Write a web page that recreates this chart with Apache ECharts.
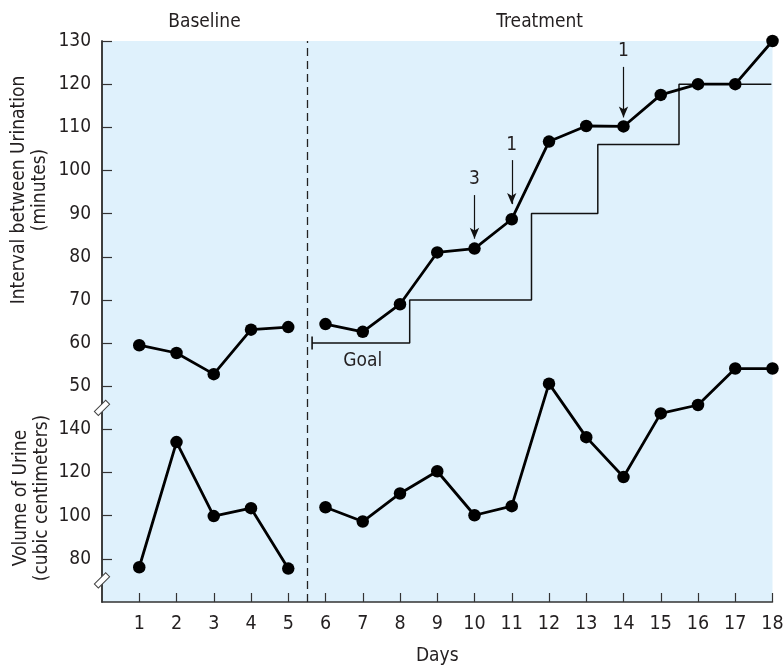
<!DOCTYPE html>
<html><head><meta charset="utf-8">
<script src="https://cdn.jsdelivr.net/npm/echarts@6/dist/echarts.min.js"></script>
<style>html,body{margin:0;padding:0;background:#fff}#c{width:784px;height:666px}</style>
</head><body><div id="c"></div>
<script>
// ---- data ----
const days = [1,2,3,4,5,6,7,8,9,10,11,12,13,14,15,16,17,18];
const baselineCount = 5;
const intervalMin = [59.5,57.7,52.8,63.1,63.7,64.4,62.6,69.0,81.0,81.9,88.7,106.7,110.3,110.2,117.5,120,120,130];
const volumeCc = [76.1,134.1,99.8,103.5,75.5,103.9,97.3,110.3,120.6,100.2,104.4,161.2,136.4,117.9,147.4,151.3,168.2,168.2];
const goalDays = [5.64, 8.26, 11.53, 13.31, 15.49, 17.97];
const goalValues = [60, 70, 90, 106, 120, 120];
const intervalTicks = [50,60,70,80,90,100,110,120,130];
const volumeTicks = [80,100,120,140];
const dayTicks = [1,2,3,4,5,6,7,8,9,10,11,12,13,14,15,16,17,18];
const arrowDays = [10, 11, 14];
const arrowLabels = ['3','1','1'];
const arrowFrom = [94.3, 102.4, 124.0];
const arrowTo = [84.2, 92.2, 112.3];
const phaseNames = ['Baseline','Treatment'];
const phaseBounds = [0, 5.5, 18];
const axisBreaks = [150, 70];

// ---- styles ----
const FONT = "'Liberation Sans Narrow','DejaVu Sans Condensed','Roboto Condensed',sans-serif";
const TXT = '#231f20';
const AX = '#333333';
const FS = 19;

const pts = (xs, ys) => xs.map((x, i) => [x, ys[i]]);
const intervalPts = pts(days, intervalMin);
const volumePts = pts(days, volumeCc);

const lineSeries = (name, data, yIdx) => ({
  name, type: 'line', data, xAxisIndex: 0, yAxisIndex: yIdx,
  symbol: 'circle', symbolSize: 12.5, showSymbol: true,
  lineStyle: { color: '#000', width: 2.8 }, itemStyle: { color: '#000' },
  z: 5, animation: false
});

const goalData = goalDays.map((d, i) => i === 0
  ? { value: [d, goalValues[i]], symbol: 'rect', symbolSize: [1.6, 13] }
  : { value: [d, goalValues[i]], symbol: 'none' });

const chart = echarts.init(document.getElementById('c'), null, { renderer: 'canvas' });
const option = {
  animation: false,
  textStyle: { fontFamily: FONT, color: TXT },
  grid: { left: 102, top: 41, width: 670.5, height: 561, show: true, backgroundColor: '#dff1fc', borderWidth: 0,
          containLabel: false, outerBoundsMode: 'none' },
  xAxis: [{
    type: 'value', min: 0, max: 18, interval: 1,
    name: 'Days', nameLocation: 'middle', nameGap: 45,
    nameTextStyle: { fontFamily: FONT, fontSize: FS, color: TXT },
    axisLine: { lineStyle: { color: AX, width: 1.5 } },
    axisTick: { inside: true, length: 9, lineStyle: { color: AX, width: 1.2 }, customValues: dayTicks },
    axisLabel: { fontFamily: FONT, fontSize: FS + 0.5, color: TXT, margin: 12, customValues: dayTicks },
    splitLine: { show: false }
  }],
  yAxis: [{
    type: 'value', min: 0, max: 130, position: 'left',
    axisLine: { show: true, lineStyle: { color: AX, width: 1.5 } },
    axisTick: { show: true, inside: true, length: 10, lineStyle: { color: AX, width: 1.2 }, customValues: intervalTicks },
    axisLabel: { fontFamily: FONT, fontSize: FS, color: TXT, margin: 11, customValues: intervalTicks },
    splitLine: { show: false }
  }, {
    type: 'value', min: 60, max: 320, position: 'left', offset: 0,
    axisLine: { show: true, lineStyle: { color: AX, width: 1.5 } },
    axisTick: { show: true, inside: true, length: 10, lineStyle: { color: AX, width: 1.2 }, customValues: volumeTicks },
    axisLabel: { fontFamily: FONT, fontSize: FS, color: TXT, margin: 11, customValues: volumeTicks },
    splitLine: { show: false }
  }],
  series: [
    {
      name: 'Goal', type: 'line', step: 'end', data: goalData, yAxisIndex: 0,
      lineStyle: { color: '#111', width: 1.5 }, itemStyle: { color: '#111' }, z: 3,
      markPoint: {
        symbol: 'circle', symbolSize: 0,
        label: { show: true, position: 'bottom', distance: 8, formatter: 'Goal', fontFamily: FONT, fontSize: FS, color: TXT },
        data: [{ coord: [7, goalValues[0]] }]
      },
      markArea: {
        silent: true, itemStyle: { color: 'rgba(0,0,0,0)' },
        label: { show: true, position: 'top', distance: 9, fontFamily: FONT, fontSize: FS, color: TXT },
        data: phaseNames.map((n, i) => [{ name: n, xAxis: phaseBounds[i] }, { xAxis: phaseBounds[i + 1] }])
      },
      markLine: {
        silent: true, symbol: 'none',
        lineStyle: { color: '#222', type: [8, 5], width: 1.3 },
        label: { show: false },
        data: [{ xAxis: phaseBounds[1] }]
      }
    },
    lineSeries('Interval baseline', intervalPts.slice(0, baselineCount), 0),
    Object.assign(lineSeries('Interval treatment', intervalPts.slice(baselineCount), 0), {
      markLine: {
        silent: true,
        lineStyle: { color: '#111', type: 'solid', width: 1.2 },
        label: { show: true, position: 'start', distance: 6, fontFamily: FONT, fontSize: FS, color: TXT },
        data: arrowDays.map((d, i) => [
          { coord: [d, arrowFrom[i]], symbol: 'none', label: { formatter: arrowLabels[i] } },
          { coord: [d, arrowTo[i]], symbol: 'arrow', symbolSize: [7, 11] }
        ])
      }
    }),
    lineSeries('Volume baseline', volumePts.slice(0, baselineCount), 1),
    lineSeries('Volume treatment', volumePts.slice(baselineCount), 1)
  ]
};
chart.setOption(option);

const x0 = chart.convertToPixel({ xAxisIndex: 0 }, 0);
const textFont = FS + 'px ' + FONT;
const graphics = axisBreaks.map(v => ({
  type: 'rect', x: x0, y: chart.convertToPixel({ yAxisIndex: 1 }, v),
  rotation: Math.PI / 4, z: 100,
  shape: { x: -8, y: -2.8, width: 16, height: 5.6 },
  style: { fill: '#fff', stroke: '#444', lineWidth: 1 }
}));
graphics.push({
  type: 'text', x: 30, y: 190, rotation: Math.PI / 2, z: 100,
  style: { text: 'Interval between Urination\n(minutes)', font: textFont, fill: TXT, align: 'center', verticalAlign: 'middle', lineHeight: 21 }
});
graphics.push({
  type: 'text', x: 32, y: 498, rotation: Math.PI / 2, z: 100,
  style: { text: 'Volume of Urine\n(cubic centimeters)', font: textFont, fill: TXT, align: 'center', verticalAlign: 'middle', lineHeight: 21 }
});
chart.setOption({ graphic: graphics });
</script>
</body></html>
